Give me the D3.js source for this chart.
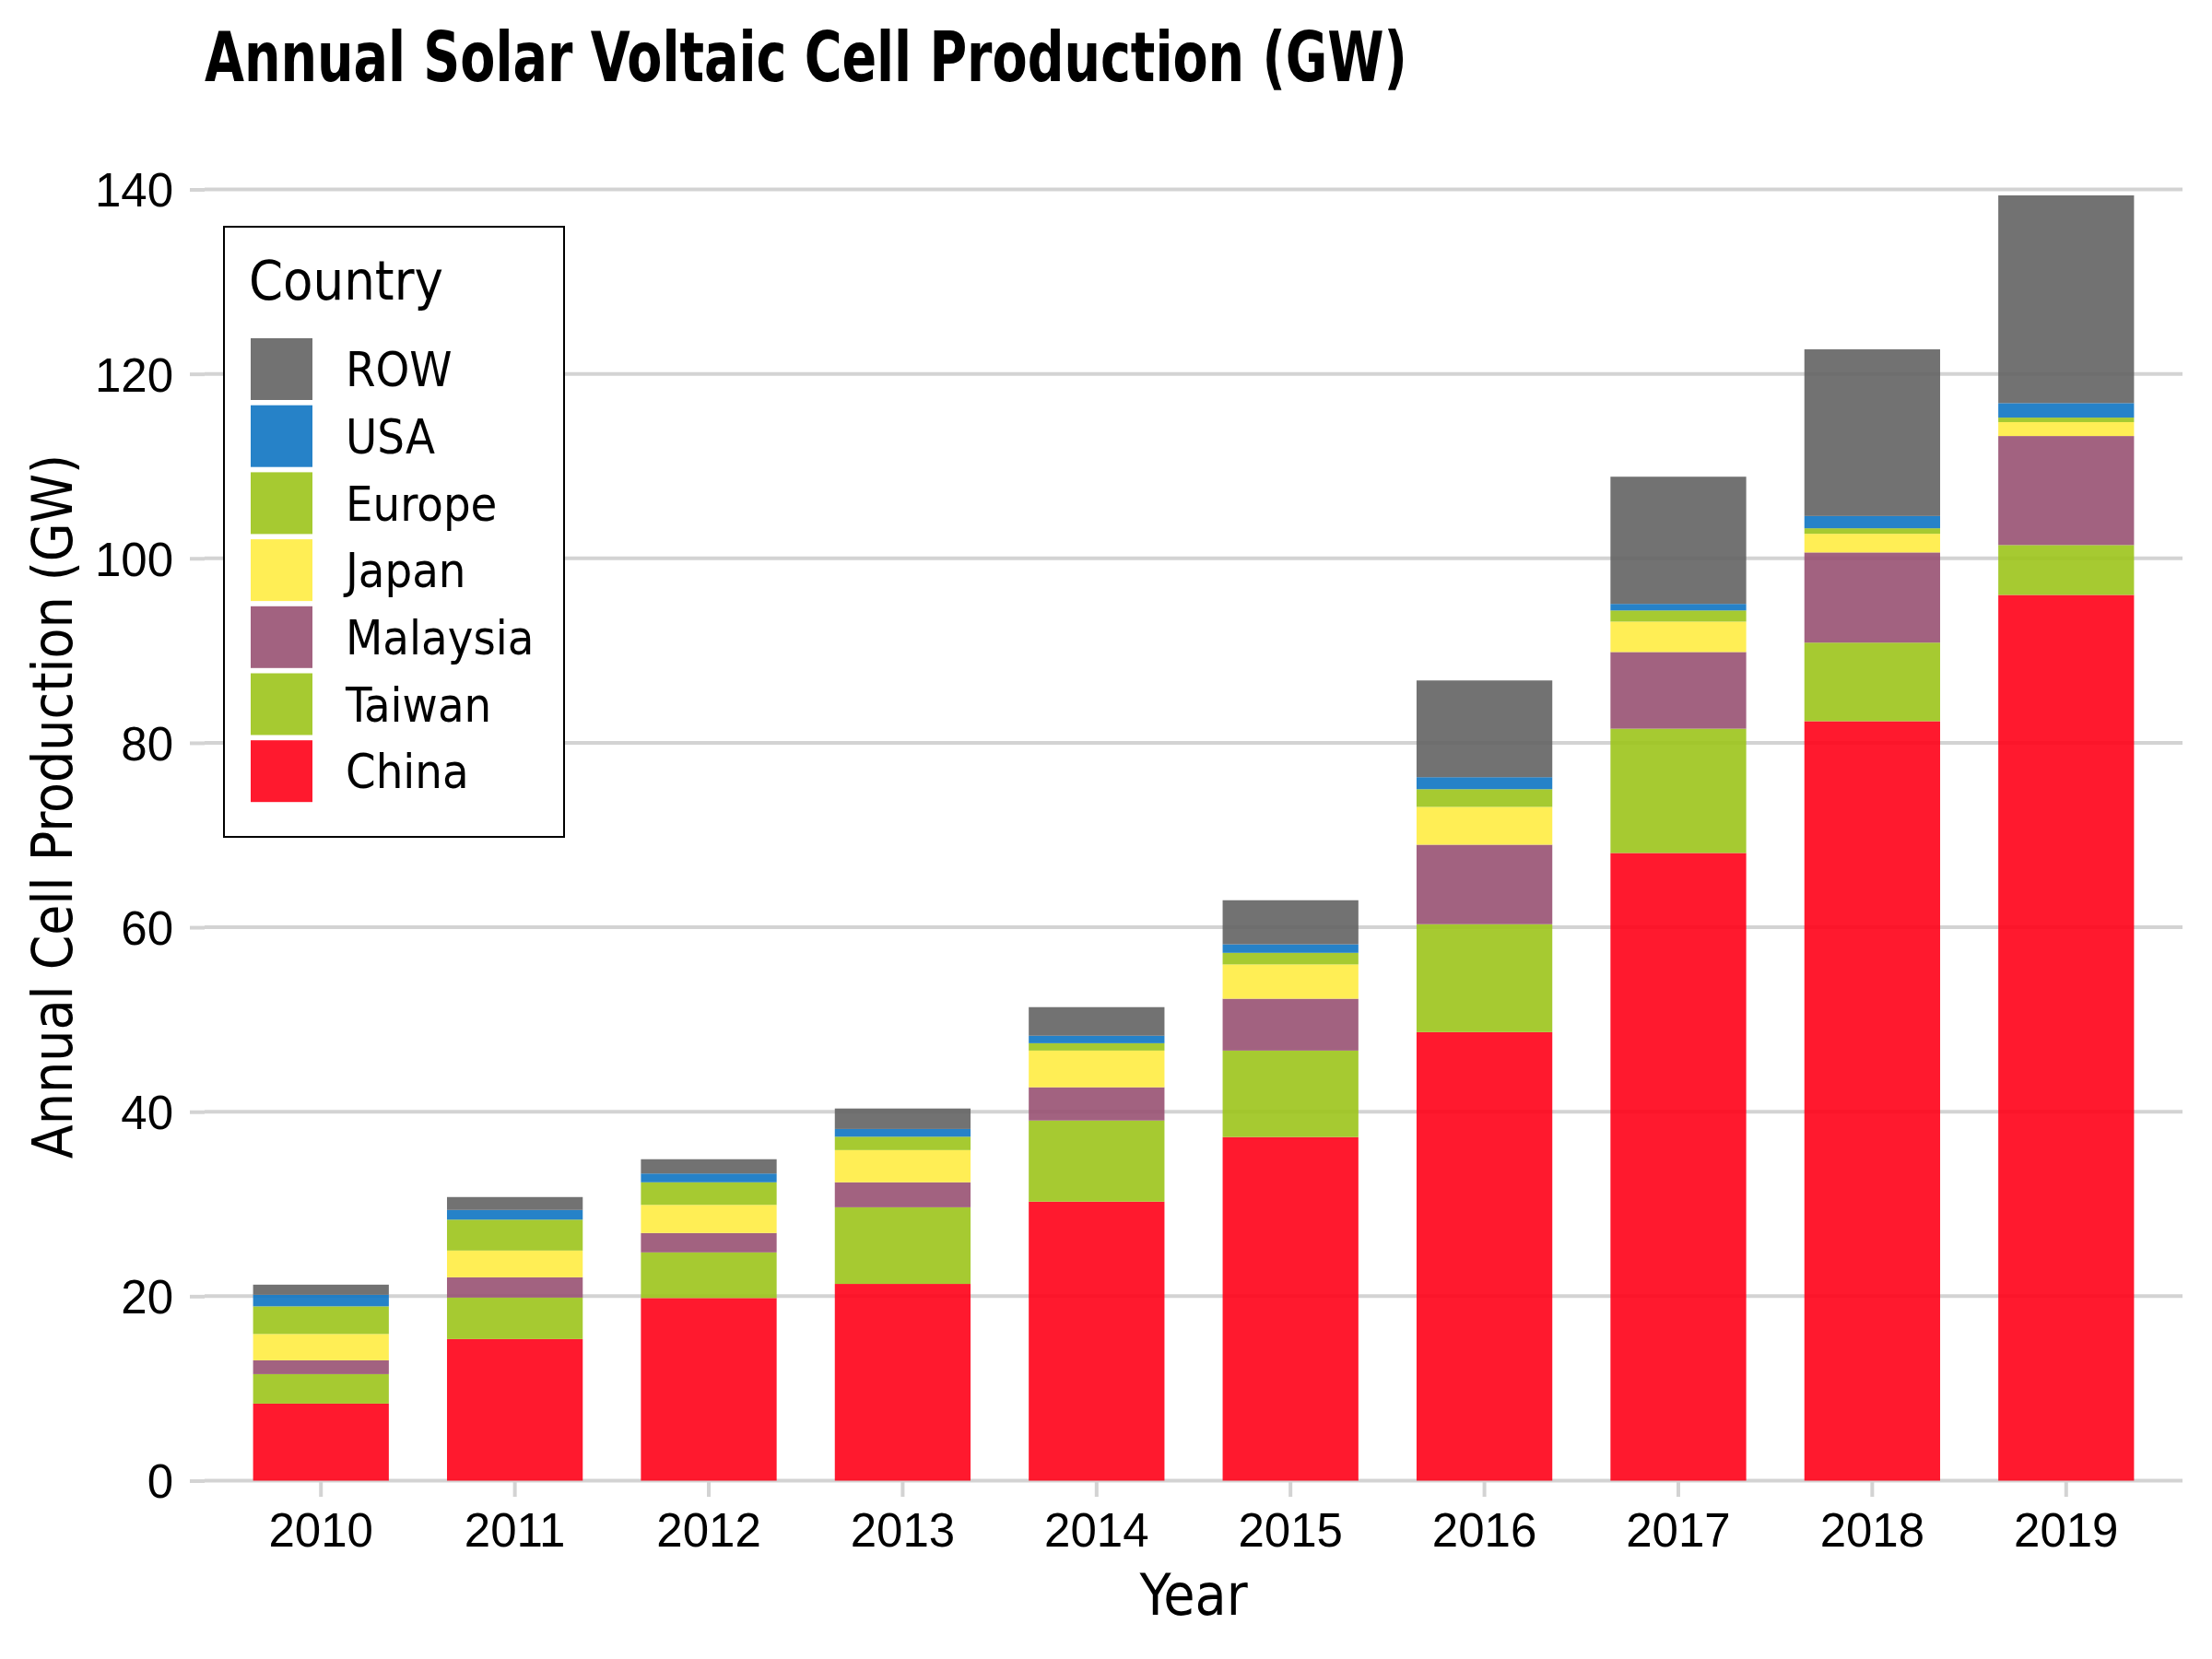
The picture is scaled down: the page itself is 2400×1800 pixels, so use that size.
<!DOCTYPE html>
<html>
<head>
    <meta charset="utf-8">
    <title>Annual Solar Voltaic Cell Production</title>
    <script src="https://d3js.org/d3.v7.min.js"></script>
    <style>
        body {
            margin: 0;
            background: #fff;
        }
        svg {
            display: block;
            font-family: "Liberation Sans Narrow", "DejaVu Sans Condensed", "Noto Sans", sans-serif;
        }
        .grid line {
            stroke: #d3d3d3;
            stroke-width: 4px;
        }
        .axis path {
            display: none;
        }
        .axis line {
            stroke: #d3d3d3;
            stroke-width: 4px;
        }
        .axis text {
            font-size: 51px;
            fill: #000;
        }
    </style>
</head>
<body>
    <svg id="chart" width="2400" height="1800"></svg>

    <script>
        // Data (GW)
        const years = ["2010", "2011", "2012", "2013", "2014", "2015", "2016", "2017", "2018", "2019"];
        const china    = [8.35, 15.35, 19.8, 21.33, 30.25, 37.25, 48.63, 68.05, 82.34, 96.03];
        const taiwan   = [3.2, 4.5, 4.95, 8.31, 8.8, 9.38, 11.7, 13.48, 8.52, 5.41];
        const malaysia = [1.5, 2.2, 2.1, 2.71, 3.6, 5.62, 8.62, 8.31, 9.78, 11.82];
        const japan    = [2.85, 2.9, 3.05, 3.49, 3.98, 3.72, 4.1, 3.3, 2.02, 1.51];
        const europe   = [3.0, 3.35, 2.45, 1.45, 0.8, 1.26, 1.92, 1.21, 0.6, 0.49];
        const usa      = [1.25, 1.05, 0.95, 0.84, 0.81, 0.92, 1.3, 0.71, 1.33, 1.57];
        const rowData  = [1.1, 1.4, 1.55, 2.22, 3.1, 4.78, 10.49, 13.79, 18.07, 22.52];

        // stacking order, bottom to top
        const countries = ["China", "Taiwan", "Malaysia", "Japan", "Europe", "USA", "ROW"];
        const series = [china, taiwan, malaysia, japan, europe, usa, rowData];
        const colours = ["#ff0017", "#9cc41b", "#985172", "#ffec42", "#9cc41b", "#0e74c2", "#636363"];
        const yTicks = [0, 20, 40, 60, 80, 100, 120, 140];

        const table = years.map((yr, i) => {
            const d = { year: yr };
            countries.forEach((c, j) => { d[c] = series[j][i]; });
            return d;
        });

        const svg = d3.select("#chart");
        const panelLeft = 222, panelRight = 2368, panelTop = 143.5, panelBottom = 1606.5;

        const x = d3.scaleBand()
            .domain(years)
            .range([panelLeft, panelRight])
            .paddingInner(0.3)
            .paddingOuter(0.25);

        const y = d3.scaleLinear()
            .domain([0, 140])
            .range([panelBottom, 205.5]);

        const colour = d3.scaleOrdinal().domain(countries).range(colours);

        // gridlines
        svg.append("g")
            .attr("class", "grid")
            .selectAll("line")
            .data(yTicks)
            .enter()
            .append("line")
            .attr("x1", panelLeft)
            .attr("x2", panelRight)
            .attr("y1", d => y(d))
            .attr("y2", d => y(d));

        // y axis
        svg.append("g")
            .attr("class", "axis")
            .attr("transform", `translate(${panelLeft},0)`)
            .call(d3.axisLeft(y).tickValues(yTicks).tickSize(16).tickPadding(18))
            .selectAll("text")
            .attr("dy", "0.36em");

        // x axis
        svg.append("g")
            .attr("class", "axis")
            .attr("transform", `translate(0,${panelBottom + 1.5})`)
            .call(d3.axisBottom(x).tickSize(16).tickPadding(18))
            .selectAll("text")
            .attr("dy", "0.71em");

        // stacked bars
        const stacked = d3.stack().keys(countries)(table);

        svg.append("g")
            .selectAll("g")
            .data(stacked)
            .enter()
            .append("g")
            .attr("fill", d => colour(d.key))
            .attr("fill-opacity", 0.9)
            .selectAll("rect")
            .data(d => d)
            .enter()
            .append("rect")
            .attr("x", d => x(d.data.year))
            .attr("width", x.bandwidth())
            .attr("y", d => y(d[1]))
            .attr("height", d => y(d[0]) - y(d[1]));

        // title
        svg.append("text")
            .attr("x", panelLeft)
            .attr("y", 88)
            .attr("font-size", 75)
            .attr("font-weight", "bold")
            .attr("textLength", 1305)
            .attr("lengthAdjust", "spacingAndGlyphs")
            .text("Annual Solar Voltaic Cell Production (GW)");

        // axis titles
        svg.append("text")
            .attr("x", (panelLeft + panelRight) / 2)
            .attr("y", 1752)
            .attr("text-anchor", "middle")
            .attr("font-size", 62)
            .text("Year");

        svg.append("text")
            .attr("transform", `translate(78,${(panelTop + panelBottom) / 2}) rotate(-90)`)
            .attr("text-anchor", "middle")
            .attr("font-size", 60)
            .text("Annual Cell Production (GW)");

        // legend
        const legend = svg.append("g");
        legend.append("rect")
            .attr("x", 243)
            .attr("y", 246)
            .attr("width", 369)
            .attr("height", 662)
            .attr("fill", "#fff")
            .attr("stroke", "#000")
            .attr("stroke-width", 2);

        legend.append("text")
            .attr("x", 270)
            .attr("y", 325)
            .attr("font-size", 59)
            .text("Country");

        const legendKeys = countries.slice().reverse();
        const items = legend.selectAll(".legend-item")
            .data(legendKeys)
            .enter()
            .append("g")
            .attr("class", "legend-item")
            .attr("transform", (d, i) => `translate(272,${367 + i * 72.7})`);

        items.append("rect")
            .attr("width", 67)
            .attr("height", 67)
            .attr("fill", d => colour(d))
            .attr("fill-opacity", 0.9);

        items.append("text")
            .attr("x", 103)
            .attr("y", 33.5)
            .attr("dy", "0.36em")
            .attr("font-size", 52)
            .text(d => d);
    </script>
</body>
</html>
